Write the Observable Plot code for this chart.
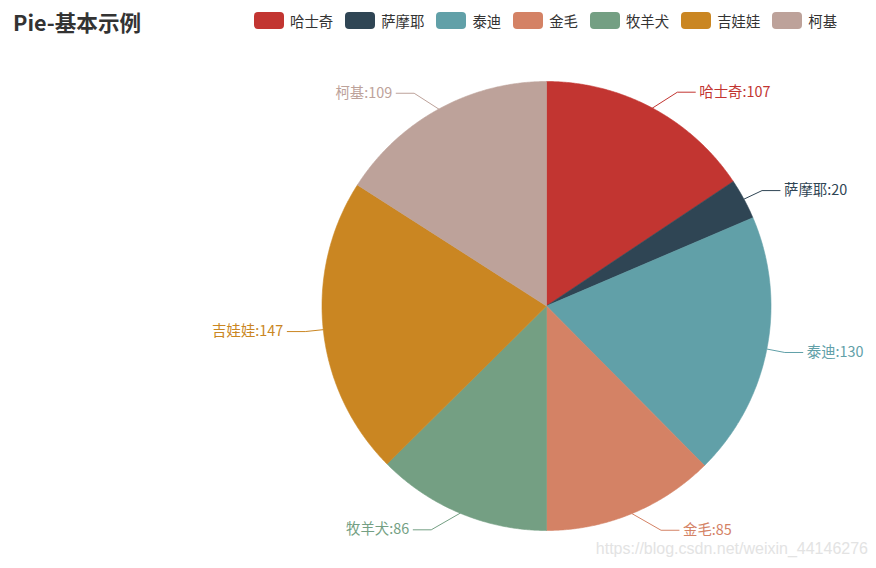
<!DOCTYPE html>
<html><head><meta charset="utf-8">
<script src="https://cdn.jsdelivr.net/npm/d3@7"></script>
<script src="https://cdn.jsdelivr.net/npm/@observablehq/plot@0.6"></script>
<style>
body{margin:0;background:#fff;font-family:"Noto Sans CJK SC","Noto Sans",sans-serif;}
#wrap{position:relative;width:876px;height:568px;overflow:hidden;}
#title{position:absolute;left:13px;top:11px;font-size:21.6px;line-height:21.6px;font-weight:bold;color:#333;white-space:nowrap;}
#legend{position:absolute;left:254px;top:12px;height:17px;display:flex;align-items:center;white-space:nowrap;}
.item{display:flex;align-items:center;margin-right:12px;}
.sw{width:30px;height:17px;border-radius:4px;margin-right:6px;}
.lt{font-size:14.4px;line-height:17px;color:#333;}
#wm{position:absolute;right:8px;top:540px;font-family:"Liberation Sans",Arial,sans-serif;font-size:16px;color:#e3e3e3;white-space:nowrap;}
#chart{position:absolute;left:0;top:0;}
</style>
</head><body>
<div id="wrap">
  <div id="chart"></div>
  <div id="title">Pie-基本示例</div>
  <div id="legend"></div>
  <div id="wm">https://blog.csdn.net/weixin_44146276</div>
</div>
<script>
const names = ["哈士奇","萨摩耶","泰迪","金毛","牧羊犬","吉娃娃","柯基"];
const values = [107,20,130,85,86,147,109];
const colors = ["#c23531","#2f4554","#61a0a8","#d48265","#749f83","#ca8622","#bda29a"];
const titleText = "Pie-基本示例";

const W = 876, H = 568;
const cx = 546, cy = 305.5, R = 224.5, len1 = 18, len2 = 18;

const data = names.map((n, i) => ({name: n, value: values[i]}));
const arcs = d3.pie().sort(null).value(d => d.value).startAngle(0).endAngle(2 * Math.PI)(data);

// slice polygons (math coords: y up)
const slicePts = [];
arcs.forEach(a => {
  const n = a.data.name;
  slicePts.push({name: n, x: 0, y: 0});
  const steps = Math.max(2, Math.ceil((a.endAngle - a.startAngle) / 0.005));
  for (let k = 0; k <= steps; k++) {
    const t = a.startAngle + (a.endAngle - a.startAngle) * k / steps;
    slicePts.push({name: n, x: R * Math.sin(t), y: R * Math.cos(t)});
  }
  slicePts.push({name: n, x: 0, y: 0});
});

// label layout (echarts-like)
const linePts = [];
const labels = [];
arcs.forEach(a => {
  const n = a.data.name;
  const m = (a.startAngle + a.endAngle) / 2;
  const dx = Math.sin(m), dy = Math.cos(m);
  const dir = dx < 0 ? -1 : 1;
  const ly = (R + len1) * dy;
  const rr = R + len1 + len2;
  const deltaX = Math.abs(ly) < R + len1 ? Math.sqrt(rr * rr - ly * ly) : Math.abs((R + len1) * dx) + len2;
  const endX = dir * deltaX;
  linePts.push({name: n, x: R * dx, y: R * dy});
  linePts.push({name: n, x: endX - dir * len2, y: ly});
  linePts.push({name: n, x: endX, y: ly});
  labels.push({name: n, x: endX, y: ly, dir, text: n + ":" + a.data.value});
});

const font = '"Noto Sans CJK SC","Noto Sans",sans-serif';
const chart = Plot.plot({
  width: W, height: H,
  margin: 0,
  x: {domain: [-cx, W - cx], axis: null},
  y: {domain: [-(H - cy), cy], axis: null},
  color: {domain: names, range: colors},
  style: {background: "transparent"},
  marks: [
    Plot.line(slicePts, {x: "x", y: "y", z: "name", fill: "name", stroke: "name", strokeWidth: 0.6, curve: "linear"}),
    Plot.line(linePts, {x: "x", y: "y", z: "name", stroke: "name", strokeWidth: 1}),
    Plot.text(labels.filter(d => d.dir > 0), {x: "x", y: "y", text: "text", fill: "name", textAnchor: "start", dx: 4, fontSize: 14.4, fontFamily: font}),
    Plot.text(labels.filter(d => d.dir < 0), {x: "x", y: "y", text: "text", fill: "name", textAnchor: "end", dx: -4, fontSize: 14.4, fontFamily: font})
  ]
});
document.getElementById("chart").appendChild(chart);

const lg = document.getElementById("legend");
names.forEach((n, i) => {
  const it = document.createElement("div"); it.className = "item";
  const sw = document.createElement("div"); sw.className = "sw"; sw.style.background = colors[i];
  const t = document.createElement("span"); t.className = "lt"; t.textContent = n;
  it.appendChild(sw); it.appendChild(t); lg.appendChild(it);
});
document.getElementById("title").textContent = titleText;
</script>
</body></html>
